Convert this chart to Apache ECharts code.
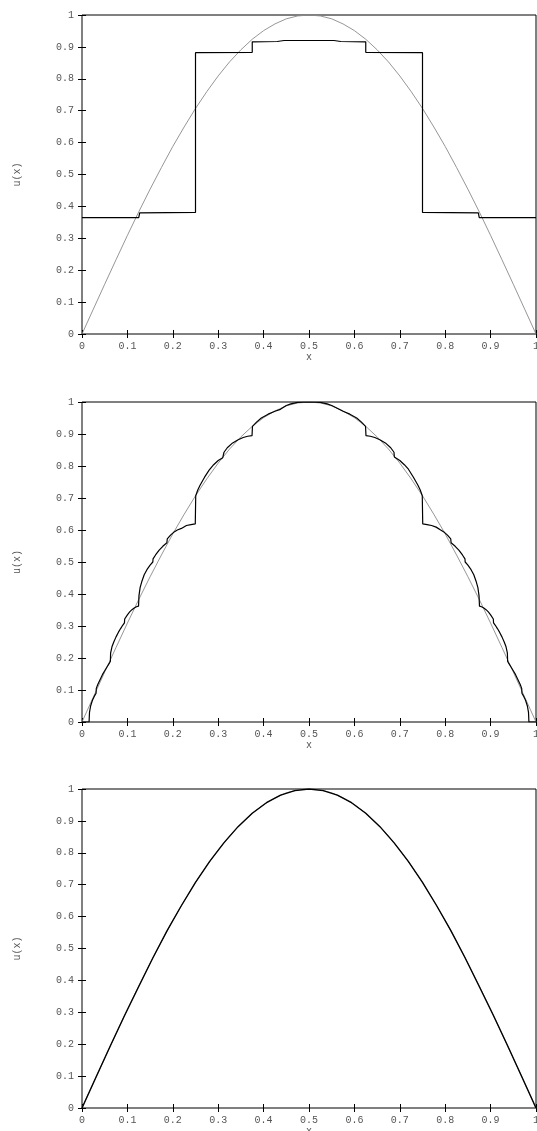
<!DOCTYPE html>
<html>
<head>
<meta charset="utf-8">
<script src="https://cdn.jsdelivr.net/npm/echarts@6/dist/echarts.min.js"></script>
<style>
html,body{margin:0;padding:0;background:#fff;}
#chart{width:537px;height:1131px;}
</style>
</head>
<body>
<div id="chart"></div>
<script>
// ---------- data ----------
// gray reference curve (same in every panel)
const exactX = [0,0.025,0.05,0.075,0.1,0.125,0.15,0.175,0.2,0.225,0.25,0.275,0.3,0.325,0.35,0.375,0.4,0.425,0.45,0.475,0.5,
                0.525,0.55,0.575,0.6,0.625,0.65,0.675,0.7,0.725,0.75,0.775,0.8,0.825,0.85,0.875,0.9,0.925,0.95,0.975,1];
const exactU = [0,0.078,0.156,0.233,0.309,0.383,0.454,0.522,0.588,0.649,0.707,0.760,0.809,0.853,0.891,0.924,0.951,0.972,0.988,0.997,1,
                0.997,0.988,0.972,0.951,0.924,0.891,0.853,0.809,0.760,0.707,0.649,0.588,0.522,0.454,0.383,0.309,0.233,0.156,0.078,0];

// panel 1: piecewise constant approximation
const stepX = [0,0.125,0.127,0.25,0.25,0.375,0.375,0.43,0.445,0.555,0.57,0.625,0.625,0.75,0.75,0.873,0.875,1];
const stepU = [0.365,0.365,0.38,0.381,0.882,0.883,0.916,0.917,0.92,0.92,0.917,0.916,0.883,0.882,0.381,0.38,0.365,0.365];

// panel 2: intermediate approximation
const midX = [0,0.0156,0.0165,0.019,0.023,0.027,0.031,0.0315,0.035,0.04,0.045,0.05,0.055,0.06,0.0625,0.063,0.066,0.07,0.075,0.08,0.085,0.09,0.0935,0.094,0.1,0.105,0.11,0.115,0.12,0.1245,
  0.1255,0.128,0.132,0.137,0.143,0.15,0.156,0.1565,0.162,0.17,0.178,0.187,0.1878,0.195,0.203,0.21,0.219,0.22,0.23,0.24,0.2495,
  0.2505,0.255,0.26,0.27,0.28,0.281,0.29,0.3,0.31,0.312,0.3128,0.32,0.33,0.344,0.355,0.365,0.3745,
  0.3755,0.385,0.395,0.41,0.425,0.437,0.44,0.45,0.46,0.475,0.5,
  0.525,0.54,0.55,0.56,0.563,0.575,0.59,0.605,0.615,0.6245,
  0.6255,0.635,0.645,0.656,0.67,0.68,0.6872,0.688,0.69,0.7,0.71,0.719,0.72,0.73,0.74,0.745,0.7495,
  0.7505,0.76,0.77,0.78,0.781,0.79,0.797,0.805,0.8122,0.813,0.822,0.83,0.838,0.8435,0.844,0.85,0.857,0.863,0.868,0.872,0.8745,
  0.8755,0.88,0.885,0.89,0.895,0.9,0.906,0.9065,0.91,0.915,0.92,0.925,0.93,0.934,0.937,0.9375,0.94,0.945,0.95,0.955,0.96,0.965,0.9685,0.969,0.973,0.977,0.981,0.9835,0.9844,1];
const midU = [0,0,0.03,0.05,0.068,0.08,0.09,0.105,0.118,0.133,0.148,0.16,0.172,0.183,0.19,0.215,0.235,0.25,0.266,0.28,0.292,0.303,0.31,0.322,0.335,0.344,0.351,0.356,0.36,0.362,
  0.395,0.42,0.44,0.46,0.476,0.49,0.5,0.51,0.522,0.537,0.549,0.56,0.572,0.584,0.594,0.6,0.605,0.609,0.614,0.617,0.619,
  0.707,0.725,0.74,0.765,0.787,0.79,0.804,0.817,0.826,0.828,0.843,0.857,0.87,0.882,0.889,0.893,0.895,
  0.924,0.938,0.95,0.962,0.971,0.977,0.982,0.989,0.994,0.999,1,
  0.999,0.994,0.989,0.982,0.977,0.971,0.962,0.95,0.938,0.924,
  0.895,0.893,0.889,0.882,0.87,0.857,0.843,0.828,0.826,0.817,0.804,0.79,0.787,0.765,0.74,0.725,0.707,
  0.619,0.617,0.614,0.609,0.605,0.6,0.594,0.584,0.572,0.56,0.549,0.537,0.522,0.51,0.5,0.49,0.476,0.46,0.44,0.42,0.395,
  0.362,0.36,0.356,0.351,0.344,0.335,0.322,0.31,0.303,0.292,0.28,0.266,0.25,0.235,0.215,0.19,0.183,0.172,0.16,0.148,0.133,0.118,0.105,0.09,0.08,0.068,0.05,0.03,0,0];

// panel 3: converged approximation
const fineX = [0,0.03125,0.0625,0.09375,0.125,0.15625,0.1875,0.21875,0.25,0.28125,0.3125,0.34375,0.375,0.40625,0.4375,0.46875,0.5,
               0.53125,0.5625,0.59375,0.625,0.65625,0.6875,0.71875,0.75,0.78125,0.8125,0.84375,0.875,0.90625,0.9375,0.96875,1];
const fineU = [0,0.098,0.195,0.290,0.381,0.471,0.556,0.634,0.707,0.773,0.831,0.882,0.924,0.957,0.981,0.995,1,
               0.995,0.981,0.957,0.924,0.882,0.831,0.773,0.707,0.634,0.556,0.471,0.381,0.290,0.195,0.098,0];

// ---------- chart ----------
function pairs(xs, ys){ return xs.map((x,i)=>[x, ys[i]]); }

const FONT = '"Liberation Mono", "DejaVu Sans Mono", monospace';
const TXT = '#555';
const FS = 10;
const grids = [
  {left:82, right:1, top:15, height:319},
  {left:82, right:1, top:402, height:320},
  {left:82, right:1, top:789, height:319}
].map(g => Object.assign({show:true, borderColor:'#000', borderWidth:1, backgroundColor:'transparent',
   containLabel:false, outerBoundsMode:'none'}, g));

const xAxes = [], yAxes = [];
for (let i=0;i<3;i++){
  xAxes.push({gridIndex:i, type:'value', min:0, max:1, interval:0.1, position:'bottom',
    axisLine:{show:false}, splitLine:{show:false},
    axisTick:{inside:true, length:4, lineStyle:{color:'#000', width:1}},
    axisLabel:{margin:7, fontFamily:FONT, fontSize:FS, color:TXT},
    name:'x', nameLocation:'middle', nameGap:18, nameTextStyle:{fontFamily:FONT, fontSize:FS, color:TXT}});
  xAxes.push({gridIndex:i, type:'value', min:0, max:1, interval:0.1, position:'top',
    axisLine:{show:false}, splitLine:{show:false}, axisLabel:{show:false},
    axisTick:{inside:true, length:4, lineStyle:{color:'#000', width:1}}});
  yAxes.push({gridIndex:i, type:'value', min:0, max:1, interval:0.1, position:'left',
    axisLine:{show:false}, splitLine:{show:false},
    axisTick:{inside:true, length:4, lineStyle:{color:'#000', width:1}},
    axisLabel:{margin:8, fontFamily:FONT, fontSize:FS, color:TXT},
    name:'u(x)', nameLocation:'middle', nameRotate:90, nameGap:60, nameTextStyle:{fontFamily:FONT, fontSize:FS, color:TXT}});
  yAxes.push({gridIndex:i, type:'value', min:0, max:1, interval:0.1, position:'right',
    axisLine:{show:false}, splitLine:{show:false}, axisLabel:{show:false},
    axisTick:{inside:true, length:4, lineStyle:{color:'#000', width:1}}});
}

function line(idx, data, color, width){
  return {type:'line', xAxisIndex:idx*2, yAxisIndex:idx*2, data:data, showSymbol:false, symbol:'none',
    lineStyle:{color:color, width:width}, animation:false, silent:true, clip:true};
}
const GRAY = '#8a8a8a';
const series = [
  line(0, pairs(exactX, exactU), GRAY, 0.9),
  line(0, pairs(stepX, stepU), '#000', 1.2),
  line(1, pairs(exactX, exactU), GRAY, 0.9),
  line(1, pairs(midX, midU), '#000', 1.2),
  line(2, pairs(exactX, exactU), GRAY, 0.9),
  line(2, pairs(fineX, fineU), '#000', 1.4)
];

const chart = echarts.init(document.getElementById('chart'), null, {renderer:'canvas'});
chart.setOption({animation:false, backgroundColor:'#fff', grid:grids, xAxis:xAxes, yAxis:yAxes, series:series});
</script>
</body>
</html>
